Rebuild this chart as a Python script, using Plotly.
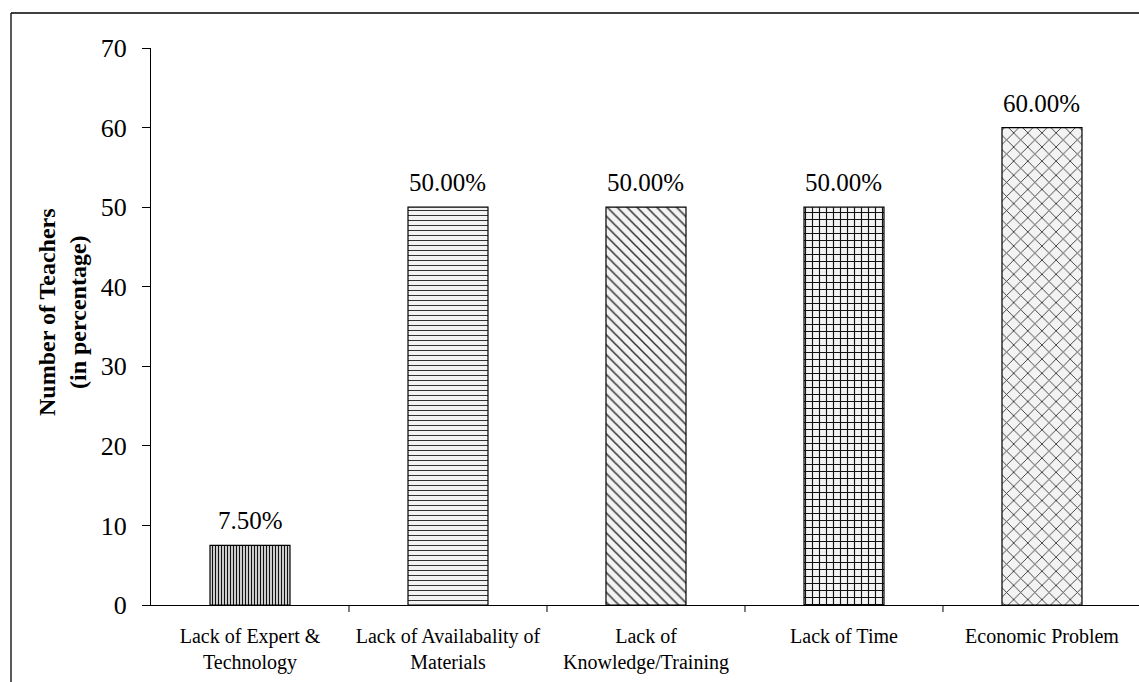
import plotly.graph_objects as go

# Survey results: problems reported by teachers
categories = [
    "Lack of Expert & Technology",
    "Lack of Availabality of Materials",
    "Lack of Knowledge/Training",
    "Lack of Time",
    "Economic Problem",
]
tick_labels = [
    "Lack of Expert &<br>Technology",
    "Lack of Availabality of<br>Materials",
    "Lack of<br>Knowledge/Training",
    "Lack of Time",
    "Economic Problem",
]
percentages = [7.5, 50.0, 50.0, 50.0, 60.0]
y_ticks = [0, 10, 20, 30, 40, 50, 60, 70]

# Hatch style for each bar
hatch_shapes = ["|", "-", "\\", "+", "x"]
hatch_sizes = [3, 5, 7, 7, 10]
hatch_solidity = [0.45, 0.2, 0.22, 0.3, 0.17]
hatch_colors = ["#111111", "#333333", "#333333", "#111111", "#333333"]

FONT = "Liberation Serif"

x_pos = list(range(len(categories)))

fig = go.Figure()
fig.add_trace(
    go.Bar(
        x=x_pos,
        y=percentages,
        width=0.404,
        marker=dict(
            color="#f3f3f3",
            line=dict(color="#000000", width=1.2),
            pattern=dict(
                shape=hatch_shapes,
                size=hatch_sizes,
                solidity=hatch_solidity,
                fgcolor=hatch_colors,
                bgcolor="#f3f3f3",
                fillmode="replace",
            ),
        ),
        hoverinfo="x+y",
        showlegend=False,
    )
)

# Value labels above each bar
for xi, v in zip(x_pos, percentages):
    fig.add_annotation(
        x=xi,
        y=v,
        text=f"{v:.2f}%",
        showarrow=False,
        yanchor="bottom",
        yshift=9,
        font=dict(family=FONT, size=25, color="#000000"),
    )

# Y axis title (two lines, bold)
fig.add_annotation(
    xref="paper",
    yref="paper",
    x=(62 - 151) / 988,
    y=(605 - 312) / 557,
    text="<b>Number of Teachers<br>(in percentage)</b>",
    textangle=-90,
    showarrow=False,
    xanchor="center",
    yanchor="middle",
    font=dict(family=FONT, size=24, color="#000000"),
)

# Outer frame: left and top edges of the chart border
frame_left = (11 - 151) / 988
frame_top = (605 - 13) / 557
fig.add_shape(
    type="line", xref="paper", yref="paper",
    x0=frame_left, x1=frame_left, y0=-0.5, y1=frame_top,
    line=dict(color="#000000", width=1.3),
)
fig.add_shape(
    type="line", xref="paper", yref="paper",
    x0=frame_left, x1=1.5, y0=frame_top, y1=frame_top,
    line=dict(color="#000000", width=1.3),
)

fig.update_layout(
    width=1139,
    height=682,
    margin=dict(l=151, r=0, t=48, b=77, pad=0),
    paper_bgcolor="#ffffff",
    plot_bgcolor="#ffffff",
    font=dict(family=FONT, color="#000000"),
    bargap=0.6,
)

fig.update_xaxes(
    range=[-0.5, 4.49],
    tickmode="array",
    tickvals=x_pos,
    ticktext=tick_labels,
    showgrid=False,
    zeroline=False,
    showline=True,
    linecolor="#000000",
    linewidth=1,
    ticks="",
    ticklabelstandoff=13,
    tickfont=dict(family=FONT, size=20, color="#000000"),
)

# Separator ticks between categories on the x axis
for b in [0.5, 1.5, 2.5, 3.5]:
    fig.add_shape(
        type="line",
        xref="x",
        yref="paper",
        x0=b,
        x1=b,
        y0=0,
        y1=-7 / 557,
        line=dict(color="#000000", width=1),
    )

fig.update_yaxes(
    range=[0, 70],
    tickmode="array",
    tickvals=y_ticks,
    showgrid=False,
    zeroline=False,
    showline=True,
    linecolor="#000000",
    linewidth=1,
    ticks="outside",
    ticklen=8,
    tickcolor="#000000",
    tickwidth=1,
    ticklabelstandoff=10,
    tickfont=dict(family=FONT, size=26, color="#000000"),
)

fig.write_html("out.html")
